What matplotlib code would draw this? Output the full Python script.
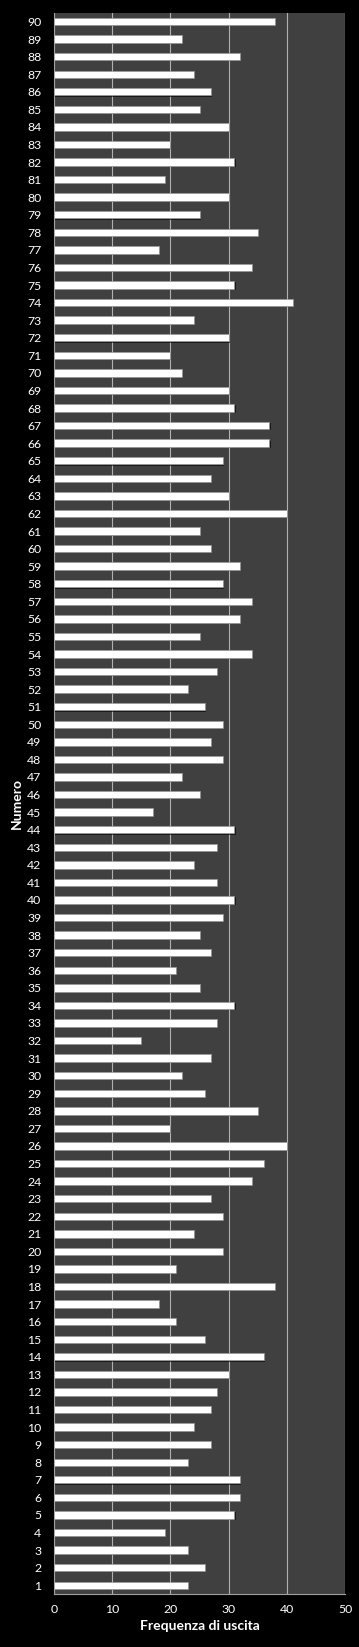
import matplotlib
matplotlib.use("Agg")
import matplotlib.pyplot as plt
import matplotlib.patheffects as pe

# numeri estratti 1..90 e frequenza di uscita
numeri = list(range(1, 91))
frequenze = [
    23, 26, 23, 19, 31, 32, 32, 23, 27, 24,   # 1-10
    27, 28, 30, 36, 26, 21, 18, 38, 21, 29,   # 11-20
    24, 29, 27, 34, 36, 40, 20, 35, 26, 22,   # 21-30
    27, 15, 28, 31, 25, 21, 27, 25, 29, 31,   # 31-40
    28, 24, 28, 31, 17, 25, 22, 29, 27, 29,   # 41-50
    26, 23, 28, 34, 25, 32, 34, 29, 32, 27,   # 51-60
    25, 40, 30, 27, 29, 37, 37, 31, 30, 22,   # 61-70
    20, 30, 24, 41, 31, 34, 18, 35, 25, 30,   # 71-80
    19, 31, 20, 30, 25, 27, 24, 32, 22, 38,   # 81-90
]
x_ticks = [0, 10, 20, 30, 40, 50]

plt.rcParams['font.family'] = ['Lato', 'DejaVu Sans']

fig = plt.figure(figsize=(3.59, 16.47), dpi=100, facecolor='black')
ax = fig.add_axes([53.7 / 359, 1 - 1594 / 1647, (345.3 - 53.7) / 359, (1594 - 12.7) / 1647])
ax.set_facecolor('#404040')

bars = ax.barh(numeri, frequenze, height=0.42, color='white',
               edgecolor='#9a9a9a', linewidth=0.5, zorder=3)
for b in bars:
    b.set_path_effects([pe.SimplePatchShadow(offset=(0.8, -0.8), shadow_rgbFace='black', alpha=0.6),
                        pe.Normal()])

ax.set_xlim(0, 50)
ax.set_ylim(0.5, 90.5)
ax.set_xticks(x_ticks)
ax.set_yticks(numeri)
ax.set_yticklabels([str(n) for n in numeri])
ax.xaxis.grid(True, color='#b0b0b0', linewidth=0.8, zorder=0)
ax.set_axisbelow(True)

for side in ['top', 'right']:
    ax.spines[side].set_visible(False)
ax.spines['left'].set_color('#a0a0a0')
ax.spines['bottom'].set_color('#a0a0a0')

ax.tick_params(axis='y', length=0, pad=9, labelsize=8.8, colors='white')
ax.tick_params(axis='x', length=0, pad=7, labelsize=8.8, colors='white')

ax.set_xlabel('Frequenza di uscita', color='white', fontsize=10, fontweight='bold', labelpad=4)
ax.set_ylabel('Numero', color='white', fontsize=10, fontweight='bold', labelpad=3)

fig.savefig('out.png', dpi=100, facecolor='black')
